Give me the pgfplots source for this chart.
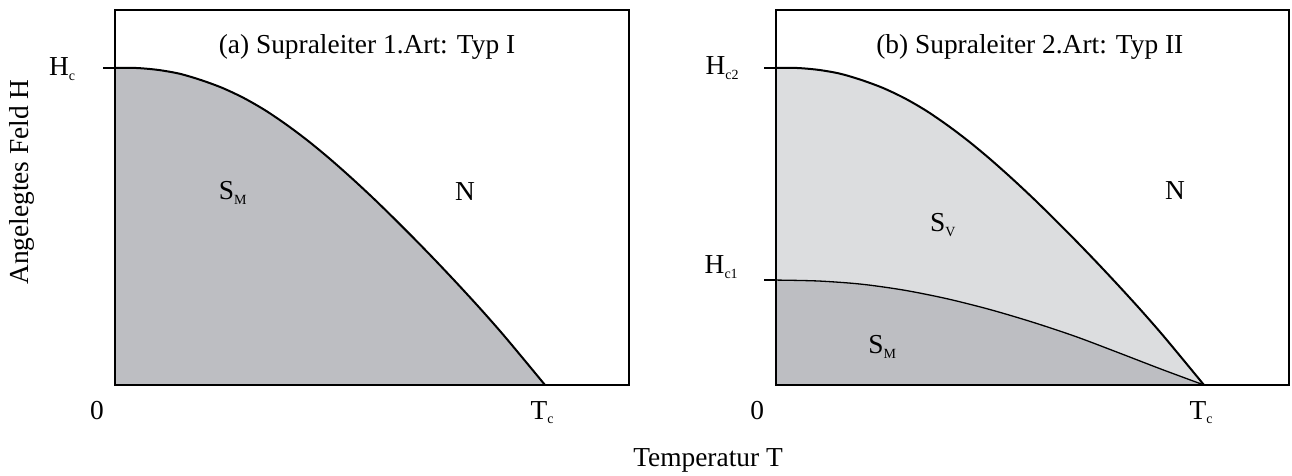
\documentclass[border=0pt]{standalone}
\usepackage{pgfplots}
\pgfplotsset{compat=1.18}
\usepackage{fontspec}
\setmainfont{Liberation Serif}

\definecolor{meissner}{RGB}{189,190,194}
\definecolor{vortex}{RGB}{220,221,223}
% small lowered subscript used in all state and field labels
\newcommand{\sub}[1]{\raisebox{-0.35ex}{\fontsize{7}{7}\selectfont #1}}

% critical field curve, H in units of H_c (H_c2), T in units of T_c
\pgfplotstableread{
T      H
0.00   1.000
0.05   1.000
0.10   0.994
0.15   0.982
0.20   0.962
0.25   0.937
0.30   0.905
0.35   0.866
0.40   0.820
0.45   0.769
0.50   0.713
0.55   0.653
0.60   0.590
0.65   0.524
0.70   0.456
0.75   0.386
0.80   0.314
0.85   0.240
0.90   0.163
0.95   0.082
1.00   0.000
}\hcurve

% lower critical field H_c1 of the type II superconductor
\pgfplotstableread{
T      H
0.00   0.331
0.10   0.328
0.20   0.318
0.30   0.299
0.40   0.272
0.50   0.238
0.60   0.198
0.70   0.153
0.80   0.102
0.90   0.050
1.00   0.000
}\hcone

\begin{document}
\begin{tikzpicture}[font=\fontsize{13.7}{15}\selectfont]
\useasboundingbox (0,0) rectangle (646pt,238pt);

\pgfplotsset{phase/.style={
  anchor=south west, scale only axis, height=187.5pt,
  xmin=0, ymin=0, ymax=1.183,
  axis on top, clip=false,
  axis line style={line width=1pt},
  xtick=\empty, ytick pos=left, yticklabels={},
  tick align=outside, major tick length=6pt,
  ytick style={line width=0.6pt, black},
}}

% (a) type I
\begin{axis}[phase, at={(57.5pt,45.5pt)}, width=257pt, xmax=1.1953, ytick={1}]
  \addplot[fill=meissner, draw=none, smooth] table[x=T, y=H] {\hcurve} \closedcycle;
  \addplot[black, line width=1pt, smooth] table[x=T, y=H] {\hcurve};
  \node at (axis cs:0.586,1.047) [anchor=base] {(a) Supraleiter 1.Art: Typ I};
  \node at (axis cs:0.274,0.606) {S\sub{M}};
  \node at (axis cs:0.814,0.609) {N};
  \node at (axis cs:-0.123,0.997) {H\sub{c}};
  \node at (axis cs:-0.042,-0.082) {0};
  \node at (axis cs:0.993,-0.088) {T\sub{c}};
\end{axis}

% (b) type II
\begin{axis}[phase, at={(388pt,45.5pt)}, width=256.5pt, xmax=1.1986, ytick={0.331,1}]
  \addplot[fill=vortex, draw=none, smooth] table[x=T, y=H] {\hcurve} \closedcycle;
  \addplot[fill=meissner, draw=none, smooth] table[x=T, y=H] {\hcone} \closedcycle;
  \addplot[black, line width=1pt, smooth] table[x=T, y=H] {\hcurve};
  \addplot[black, line width=0.65pt, smooth] table[x=T, y=H] {\hcone};
  \node at (axis cs:0.593,1.047) [anchor=base] {(b) Supraleiter 2.Art: Typ II};
  \node at (axis cs:0.390,0.505) {S\sub{V}};
  \node at (axis cs:0.248,0.120) {S\sub{M}};
  \node at (axis cs:0.932,0.615) {N};
  \node at (axis cs:-0.126,1.000) {H\sub{c2}};
  \node at (axis cs:-0.128,0.372) {H\sub{c1}};
  \node at (axis cs:-0.044,-0.082) {0};
  \node at (axis cs:0.993,-0.088) {T\sub{c}};
\end{axis}

\node at (354pt,8pt) {Temperatur T};
\node[rotate=90] at (11pt,147pt) {Angelegtes Feld H};
\end{tikzpicture}
\end{document}
